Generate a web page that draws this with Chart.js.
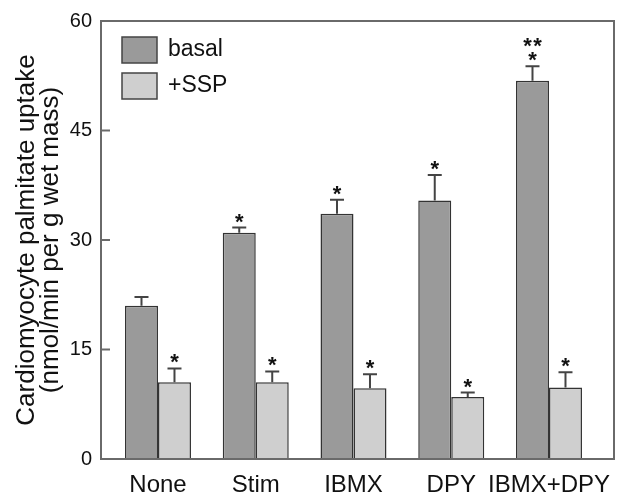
<!DOCTYPE html>
<html>
<head>
<meta charset="utf-8">
<script src="https://cdn.jsdelivr.net/npm/chart.js@4.4.0/dist/chart.umd.min.js"></script>
<style>
  html, body { margin: 0; padding: 0; background: #fff; }
</style>
</head>
<body>
<canvas id="chart" width="636" height="492"></canvas>
<script>
// values
const categories = ['None', 'Stim', 'IBMX', 'DPY', 'IBMX+DPY'];
const basal = [21.0, 31.0, 33.6, 35.4, 51.8];
const basalErr = [1.2, 0.7, 1.9, 3.5, 2.0];
const ssp = [10.5, 10.5, 9.7, 8.5, 9.8];
const sspErr = [1.9, 1.5, 1.9, 0.6, 2.1];
// significance marks, one entry per row from bottom to top
const basalMarks = [[], ['*'], ['*'], ['*'], ['*', '**']];
const sspMarks = [['*'], ['*'], ['*'], ['*'], ['*']];
const yTicks = [0, 15, 30, 45, 60];

const FONT = '"Liberation Sans", Arial, sans-serif';
const TEXT = '#111';

const overlay = {
    id: 'overlay',
    afterDatasetsDraw(chart) {
        const { ctx, chartArea: a, scales: { y } } = chart;
        ctx.save();

        // error bars and stars
        const sets = [[basal, basalErr, basalMarks], [ssp, sspErr, sspMarks]];
        sets.forEach(([vals, errs, marks], d) => {
            const meta = chart.getDatasetMeta(d);
            meta.data.forEach((bar, i) => {
                const top = y.getPixelForValue(vals[i] + errs[i]);
                ctx.strokeStyle = '#444';
                ctx.lineWidth = 2;
                ctx.beginPath();
                ctx.moveTo(bar.x, bar.y);
                ctx.lineTo(bar.x, top);
                ctx.moveTo(bar.x - 7, top);
                ctx.lineTo(bar.x + 7, top);
                ctx.stroke();

                ctx.fillStyle = '#111';
                ctx.font = 'bold 22px ' + FONT;
                ctx.textAlign = 'center';
                ctx.textBaseline = 'alphabetic';
                marks[i].forEach((row, r) => {
                    const cy = top - 12 - r * 14;
                    const n = row.length;
                    for (let k = 0; k < n; k++) {
                        const cx = bar.x + (k - (n - 1) / 2) * 10;
                        ctx.fillText('*', cx, cy + 13);
                    }
                });
            });
        });

        // frame and inward ticks
        ctx.strokeStyle = '#6a6a6a';
        ctx.lineWidth = 2;
        ctx.strokeRect(a.left, a.top, a.right - a.left, a.bottom - a.top);
        yTicks.forEach(v => {
            const py = y.getPixelForValue(v);
            ctx.beginPath();
            ctx.moveTo(a.left, py);
            ctx.lineTo(a.left + 9, py);
            ctx.stroke();
        });

        // legend
        chart.data.datasets.forEach((ds, d) => {
            const bx = a.left + 21;
            const by = a.top + 16 + d * 36;
            ctx.fillStyle = ds.backgroundColor;
            ctx.fillRect(bx, by, 35, 26);
            ctx.strokeStyle = '#444';
            ctx.lineWidth = 1.5;
            ctx.strokeRect(bx, by, 35, 26);
            ctx.fillStyle = TEXT;
            ctx.font = '23px ' + FONT;
            ctx.textAlign = 'left';
            ctx.textBaseline = 'middle';
            ctx.fillText(ds.label, bx + 46, by + 13);
        });

        ctx.restore();
    }
};

new Chart(document.getElementById('chart').getContext('2d'), {
    type: 'bar',
    data: {
        datasets: [{
            label: 'basal',
            data: basal.map((v, i) => ({ x: i + 1, y: v })),
            backgroundColor: '#9a9a9a',
            borderColor: '#333',
            borderWidth: 1.5,
            categoryPercentage: 0.675,
            barPercentage: 1.0
        }, {
            label: '+SSP',
            data: ssp.map((v, i) => ({ x: i + 1, y: v })),
            backgroundColor: '#cfcfcf',
            borderColor: '#333',
            borderWidth: 1.5,
            categoryPercentage: 0.675,
            barPercentage: 1.0
        }]
    },
    options: {
        responsive: false,
        animation: false,
        devicePixelRatio: 1,
        layout: { padding: { top: 20, right: 22, left: 0, bottom: 0 } },
        plugins: { legend: { display: false }, tooltip: { enabled: false } },
        scales: {
            x: {
                type: 'linear',
                offset: false,
                min: 0.417,
                max: 5.665,
                grid: { display: false },
                border: { display: false },
                afterBuildTicks: s => { s.ticks = categories.map((c, i) => ({ value: i + 1 })); },
                afterFit: s => { s.height = 33; },
                ticks: {
                    autoSkip: false,
                    maxRotation: 0,
                    padding: 4,
                    color: TEXT,
                    font: { family: FONT, size: 24 },
                    callback: v => categories[Math.round(v) - 1]
                }
            },
            y: {
                min: 0,
                max: 60,
                grid: { display: false, drawTicks: false },
                border: { display: false },
                afterBuildTicks: s => { s.ticks = yTicks.map(v => ({ value: v })); },
                afterFit: s => { s.width = 101; },
                ticks: {
                    padding: 9,
                    color: TEXT,
                    font: { family: FONT, size: 20 }
                },
                title: {
                    display: true,
                    text: ['Cardiomyocyte palmitate uptake', '(nmol/min per g wet mass)'],
                    color: TEXT,
                    font: { family: FONT, size: 26, lineHeight: 0.93 },
                    padding: { top: 15, bottom: 0 }
                }
            }
        }
    },
    plugins: [overlay]
});
</script>
</body>
</html>
